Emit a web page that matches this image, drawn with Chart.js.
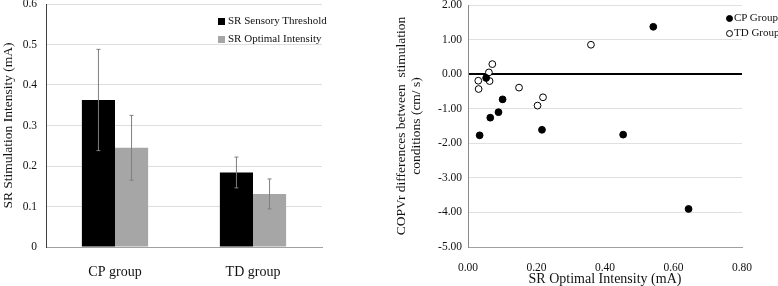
<!DOCTYPE html>
<html>
<head>
<meta charset="utf-8">
<script src="https://cdn.jsdelivr.net/npm/chart.js@4.4.0/dist/chart.umd.min.js"></script>
<style>
  body { margin: 0; background: #fff; }
  #wrap { position: relative; width: 778px; height: 286px; overflow: hidden; font-family: 'Liberation Serif', 'Times New Roman', serif; }
  canvas { position: absolute; top: 0; }
  #barChart { left: 0; }
  #scatterChart { left: 390px; }
  .legend { position: absolute; font-size: 11px; color: #111; }
  .legend div { position: absolute; white-space: nowrap; height: 12px; line-height: 12px; }
  .legend span { display: inline-block; vertical-align: middle; margin-right: 3px; }
</style>
</head>
<body>
<div id="wrap">
  <canvas id="barChart" width="390" height="286"></canvas>
  <canvas id="scatterChart" width="388" height="286"></canvas>
  <div class="legend" id="barLegend" style="left:218px; top:0;"></div>
  <div class="legend" id="scatterLegend" style="left:726px; top:0;"></div>
</div>
<script>
// left chart : mean stimulation intensity per group (with SD)
const groups = ['CP group', 'TD group'];
const thresholdMeans = [0.363, 0.184];
const thresholdErr = [0.125, 0.038];
const optimalMeans = [0.245, 0.131];
const optimalErr = [0.080, 0.037];
const barTicks = [0, 0.1, 0.2, 0.3, 0.4, 0.5, 0.6];

// right chart : optimal intensity vs COPVr differences
const cpX = [0.034, 0.053, 0.065, 0.089, 0.101, 0.216, 0.453, 0.541, 0.644];
const cpY = [-1.77, -0.11, -1.26, -1.10, -0.73, -1.61, -1.75, 1.37, -3.90];
const tdX = [0.030, 0.031, 0.061, 0.063, 0.071, 0.149, 0.203, 0.219, 0.359];
const tdY = [-0.19, -0.43, 0.05, -0.20, 0.29, -0.39, -0.91, -0.67, 0.85];

const serif = "'Liberation Serif', 'Times New Roman', serif";
Chart.defaults.font.family = serif;
Chart.defaults.color = '#111';

// error bars drawn on top of each bar, using the y scale of the chart
const errorBars = {
    id: 'errorBars',
    afterDatasetsDraw(chart) {
        const ctx = chart.ctx;
        const yScale = chart.scales.y;
        chart.data.datasets.forEach((ds, i) => {
            const meta = chart.getDatasetMeta(i);
            meta.data.forEach((bar, j) => {
                const v = ds.data[j];
                const e = ds.errors[j];
                const top = yScale.getPixelForValue(v + e);
                const bot = yScale.getPixelForValue(v - e);
                ctx.save();
                ctx.strokeStyle = '#7f7f7f';
                ctx.lineWidth = 1;
                ctx.beginPath();
                ctx.moveTo(bar.x, top); ctx.lineTo(bar.x, bot);
                ctx.moveTo(bar.x - 2, top); ctx.lineTo(bar.x + 2, top);
                ctx.moveTo(bar.x - 2, bot); ctx.lineTo(bar.x + 2, bot);
                ctx.stroke();
                ctx.restore();
            });
        });
    }
};

function fixWidth(w) {
    return function(scale) { scale.width = w; scale.paddingTop = 0; scale.paddingBottom = 0; };
}
function fixHeight(h) {
    return function(scale) { scale.height = h; scale.paddingLeft = 0; scale.paddingRight = 0; };
}

const barChart = new Chart('barChart', {
    type: 'bar',
    data: {
        labels: groups,
        datasets: [{
            label: 'SR Sensory Threshold',
            data: thresholdMeans,
            errors: thresholdErr,
            backgroundColor: '#000000'
        }, {
            label: 'SR Optimal Intensity',
            data: optimalMeans,
            errors: optimalErr,
            backgroundColor: '#a6a6a6'
        }]
    },
    options: {
        responsive: false,
        animation: false,
        devicePixelRatio: 1,
        layout: { padding: { top: 4, right: 68, left: 0, bottom: 0 } },
        datasets: { bar: { barPercentage: 1, categoryPercentage: 0.48 } },
        plugins: { legend: { display: false }, tooltip: { enabled: false } },
        scales: {
            x: {
                afterFit: fixHeight(39),
                grid: { display: false },
                border: { color: '#a0a0a0', width: 1 },
                ticks: { font: { size: 14 }, padding: 9, color: '#111' }
            },
            y: {
                min: 0, max: 0.6,
                afterFit: fixWidth(46),
                afterBuildTicks: (scale) => { scale.ticks = barTicks.map(v => ({ value: v })); },
                grid: { color: '#dedede', drawTicks: false },
                border: { color: '#404040', width: 1 },
                ticks: { font: { size: 11.5 }, padding: 9, color: '#111' },
                title: {
                    display: true,
                    text: 'SR Stimulation Intensity (mA)',
                    font: { size: 13.5 },
                    padding: { top: 0, bottom: 0 },
                    color: '#111'
                }
            }
        }
    },
    plugins: [errorBars]
});

const scatterChart = new Chart('scatterChart', {
    type: 'scatter',
    data: {
        datasets: [{
            label: 'CP Group',
            data: cpX.map((x, i) => ({ x: x, y: cpY[i] })),
            backgroundColor: '#000',
            borderColor: '#000',
            borderWidth: 1,
            pointRadius: 3.4
        }, {
            label: 'TD Group',
            data: tdX.map((x, i) => ({ x: x, y: tdY[i] })),
            backgroundColor: '#fff',
            borderColor: '#000',
            borderWidth: 1,
            pointRadius: 3.4
        }]
    },
    options: {
        responsive: false,
        animation: false,
        devicePixelRatio: 1,
        layout: { padding: { top: 4, right: 36, left: 0, bottom: 0 } },
        plugins: { legend: { display: false }, tooltip: { enabled: false } },
        scales: {
            x: {
                type: 'linear',
                min: 0, max: 0.8,
                afterFit: fixHeight(39),
                grid: { display: false },
                border: { color: '#a0a0a0', width: 1 },
                ticks: { stepSize: 0.2, font: { size: 11.5 }, padding: 6, color: '#111',
                         callback: (v) => v.toFixed(2) },
                title: {
                    display: true,
                    text: 'SR Optimal Intensity (mA)',
                    font: { size: 14, lineHeight: 1 },
                    padding: { top: 0, bottom: 0 },
                    color: '#111'
                }
            },
            y: {
                min: -5, max: 2,
                afterFit: fixWidth(78),
                grid: {
                    drawTicks: false,
                    color: (c) => (c.tick && c.tick.value === 0) ? '#000' : '#e0e0e0',
                    lineWidth: (c) => (c.tick && c.tick.value === 0) ? 2 : 1
                },
                border: { color: '#8a8a8a', width: 1 },
                ticks: { stepSize: 1, font: { size: 11.5 }, padding: 6, color: '#111',
                         callback: (v) => v.toFixed(2) },
                title: {
                    display: true,
                    text: ['COPVr differences between  stimulation', 'conditions (cm/ s)'],
                    font: { size: 13.5, lineHeight: 1.11 },
                    padding: { top: 4, bottom: 0 },
                    color: '#111'
                }
            }
        }
    }
});

// html legends, read from the datasets
function buildLegend(el, chart, rows, marker) {
    chart.data.datasets.forEach((ds, i) => {
        const row = document.createElement('div');
        row.style.top = (rows[i] - 6) + 'px';
        const m = document.createElement('span');
        marker(m, ds);
        row.appendChild(m);
        row.appendChild(document.createTextNode(ds.label));
        el.appendChild(row);
    });
}

buildLegend(document.getElementById('barLegend'), barChart, [20, 38], (m, ds) => {
    m.style.width = '7px'; m.style.height = '7px';
    m.style.background = ds.backgroundColor;
});
buildLegend(document.getElementById('scatterLegend'), scatterChart, [17, 32], (m, ds) => {
    m.style.width = '5px'; m.style.height = '5px';
    m.style.borderRadius = '50%';
    m.style.background = ds.backgroundColor;
    m.style.border = '1px solid ' + ds.borderColor;
    m.style.marginRight = '1px';
});
</script>
</body>
</html>
